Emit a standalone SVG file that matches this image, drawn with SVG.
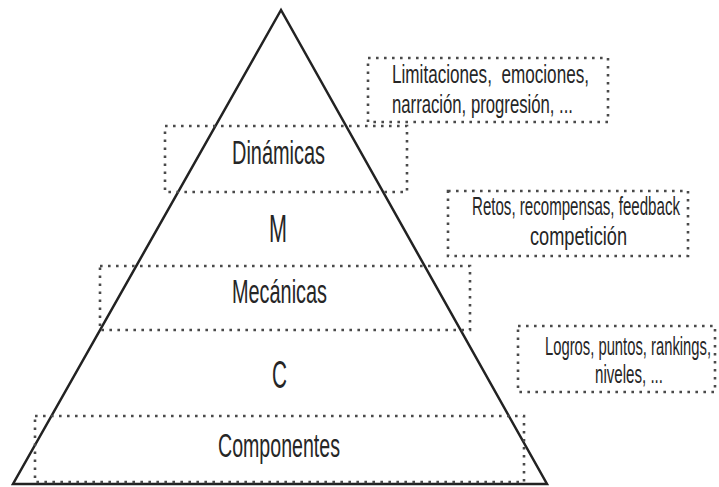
<svg xmlns="http://www.w3.org/2000/svg" width="719" height="487" viewBox="0 0 719 487">
<style>
.box{fill:none;stroke:#4a4a4a;stroke-width:2.6;stroke-dasharray:2.6 5.4;stroke-linecap:butt}
.tri{fill:none;stroke:#222;stroke-width:2.5;stroke-linejoin:miter}
.t{font-family:"Liberation Sans Narrow","Liberation Sans",Arial,sans-serif;fill:#262626}
.main{font-size:33px}
.big{font-size:38px}
.side{font-size:26px}
</style>
<rect width="719" height="487" fill="#fff"/>
<g id="pyramid">
<path class="tri" d="M281,10 L13,484 L547,484 Z"/>
</g>
<g id="dinamicas">
<rect class="box" x="165" y="126" width="242" height="66"/>
<text class="t main" x="232" y="164" textLength="93" lengthAdjust="spacingAndGlyphs">Dinámicas</text>
</g>
<g id="m">
<text class="t big" x="269" y="242" textLength="18" lengthAdjust="spacingAndGlyphs">M</text>
</g>
<g id="mecanicas">
<rect class="box" x="100" y="266" width="370" height="64"/>
<text class="t main" x="232" y="303" textLength="95" lengthAdjust="spacingAndGlyphs">Mecánicas</text>
</g>
<g id="c">
<text class="t big" x="272" y="388" textLength="15" lengthAdjust="spacingAndGlyphs">C</text>
</g>
<g id="componentes">
<rect class="box" x="35" y="416" width="489" height="66"/>
<text class="t main" x="218" y="457" textLength="122" lengthAdjust="spacingAndGlyphs">Componentes</text>
</g>
<g id="dinamicas-ejemplos">
<rect class="box" x="368" y="58" width="240" height="64"/>
<text class="t side" x="392" y="83" textLength="197" lengthAdjust="spacingAndGlyphs" xml:space="preserve">Limitaciones,  emociones,</text>
<text class="t side" x="392" y="113" textLength="181" lengthAdjust="spacingAndGlyphs">narración, progresión, ...</text>
</g>
<g id="mecanicas-ejemplos">
<rect class="box" x="448" y="191" width="240" height="65"/>
<text class="t side" x="472" y="215" textLength="208" lengthAdjust="spacingAndGlyphs">Retos, recompensas, feedback</text>
<text class="t side" x="530" y="245" textLength="97" lengthAdjust="spacingAndGlyphs">competición</text>
</g>
<g id="componentes-ejemplos">
<rect class="box" x="518" y="326" width="197" height="66"/>
<text class="t side" x="545" y="355" textLength="166" lengthAdjust="spacingAndGlyphs">Logros, puntos, rankings,</text>
<text class="t side" x="595" y="383" textLength="68" lengthAdjust="spacingAndGlyphs">niveles, ...</text>
</g>
<g id="connectors"></g>
</svg>
